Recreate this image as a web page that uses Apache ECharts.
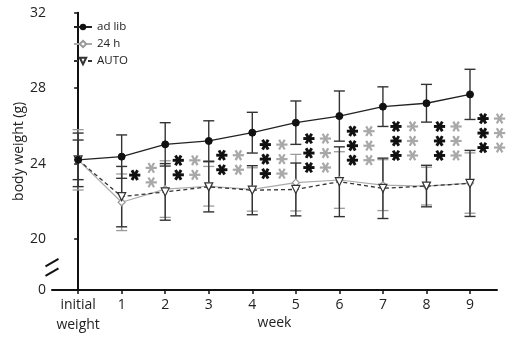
<!DOCTYPE html>
<html><head><meta charset="utf-8">
<script src="https://cdn.jsdelivr.net/npm/echarts@6/dist/echarts.min.js"></script>
<style>html,body{margin:0;padding:0;background:#fff}#c{width:510px;height:342px}</style>
</head><body><div id="c"></div>
<script>
// ---- data ----
const weeks = [0, 1, 2, 3, 4, 5, 6, 7, 8, 9];
const xLabels = ['initial\nweight', '1', '2', '3', '4', '5', '6', '7', '8', '9'];
const yTickValues = [17.3, 20, 24, 28, 32];
const yTickLabels = ['0', '20', '24', '28', '32'];
const adLibMean = [24.2, 24.37, 25.02, 25.2, 25.64, 26.17, 26.52, 27.02, 27.2, 27.67];
const adLibSD   = [1.42, 1.15, 1.15, 1.07, 1.08, 1.15, 1.33, 1.05, 1.0, 1.33];
const h24Mean   = [24.2, 21.95, 22.65, 22.8, 22.63, 22.99, 23.13, 22.86, 22.81, 22.97];
const h24SD     = [1.6, 1.5, 1.5, 1.05, 1.15, 1.5, 1.5, 1.35, 1.0, 1.6];
const autoMean  = [24.2, 22.25, 22.5, 22.77, 22.59, 22.63, 23.04, 22.69, 22.81, 22.95];
const autoSD    = [1.05, 1.6, 1.5, 1.33, 1.3, 1.4, 1.85, 1.6, 1.1, 1.75];
const sigAdLib  = [0, 1, 2, 2, 3, 3, 3, 3, 3, 3];
const sig24h    = [0, 2, 2, 2, 3, 3, 3, 3, 3, 3];
const sigLevel  = [null, 23.39, 23.79, 24.06, 24.24, 24.56, 24.95, 25.2, 25.2, 25.62];
const breakValue = 18.5;

// ---- build ----
const FONT = '"Open Sans", "Noto Sans", sans-serif';
const pts = m => weeks.map((w, i) => [w, m[i]]);
const bars = (m, s) => weeks.map((w, i) => [w, m[i] - s[i], m[i] + s[i]]);
const stars = (cnt) => weeks.map((w, i) => [w, sigLevel[i] == null ? 0 : sigLevel[i], cnt[i]]).filter(d => d[2] > 0);

function errRender(color, width) {
  return function (params, api) {
    const x = api.value(0);
    const a = api.coord([x, api.value(2)]);
    const b = api.coord([x, api.value(1)]);
    const hw = 5.5;
    const st = { stroke: color, lineWidth: width };
    return { type: 'group', children: [
      { type: 'line', shape: { x1: a[0], y1: a[1], x2: b[0], y2: b[1] }, style: st },
      { type: 'line', shape: { x1: a[0] - hw, y1: a[1], x2: a[0] + hw, y2: a[1] }, style: st },
      { type: 'line', shape: { x1: b[0] - hw, y1: b[1], x2: b[0] + hw, y2: b[1] }, style: st }
    ]};
  };
}
function starRender(color, width, xOff) {
  return function (params, api) {
    const n = api.value(2);
    const c = api.coord([api.value(0) + xOff, api.value(1)]);
    const sp = 14.5, r = 5.6;
    const children = [];
    for (let k = 0; k < n; k++) {
      const cy = c[1] + (k - (n - 1) / 2) * sp;
      [0, 60, 120].forEach(deg => {
        const t = deg * Math.PI / 180;
        children.push({ type: 'line', shape: { x1: c[0] - r * Math.cos(t), y1: cy - r * Math.sin(t), x2: c[0] + r * Math.cos(t), y2: cy + r * Math.sin(t) },
          style: { stroke: color, lineWidth: width, lineCap: 'butt' } });
      });
    }
    return { type: 'group', children };
  };
}

const chart = echarts.init(document.getElementById('c'), null, { renderer: 'canvas' });
const option = {
  animation: false,
  textStyle: { fontFamily: FONT },
  grid: { left: 52, right: 13, top: 12.7, bottom: 52, containLabel: false, outerBoundsMode: 'none' },
  legend: {
    orient: 'vertical', left: 68, top: 16, itemWidth: 18, itemHeight: 8, itemGap: 5,
    textStyle: { fontSize: 11.5, color: '#222', fontFamily: FONT },
    data: ['ad lib', '24 h', 'AUTO']
  },
  xAxis: {
    type: 'value', min: -0.6, max: 9.62,
    name: 'week', nameLocation: 'middle', nameGap: 26, nameMoveOverlap: false,
    nameTextStyle: { fontSize: 14, color: '#222', fontFamily: FONT },
    axisLine: { lineStyle: { color: '#111', width: 2 } },
    axisTick: { show: true, length: 4, customValues: weeks, lineStyle: { color: '#111', width: 1.5 } },
    axisLabel: { customValues: weeks, formatter: v => xLabels[weeks.indexOf(Math.round(v))], fontSize: 14, color: '#222', lineHeight: 20, margin: 5, fontFamily: FONT },
    splitLine: { show: false }
  },
  yAxis: {
    type: 'value', min: 17.3, max: 32,
    name: 'body weight (g)', nameLocation: 'middle', nameGap: 26, nameRotate: 90, nameMoveOverlap: false,
    nameTextStyle: { fontSize: 14, color: '#222', fontFamily: FONT },
    axisLine: { show: true, lineStyle: { color: '#111', width: 2 } },
    axisTick: { show: true, length: 4, customValues: yTickValues, lineStyle: { color: '#111', width: 1.5 } },
    axisLabel: { customValues: yTickValues, formatter: v => yTickLabels[yTickValues.indexOf(v)], fontSize: 14, color: '#222', margin: 6, fontFamily: FONT },
    splitLine: { show: false }
  },
  series: [
    { type: 'custom', name: 'err24', data: bars(h24Mean, h24SD), renderItem: errRender('#9a9a9a', 1.3), z: 1, silent: true },
    { type: 'custom', name: 'errAuto', data: bars(autoMean, autoSD), renderItem: errRender('#333', 1.4), z: 1, silent: true },
    { type: 'custom', name: 'errAd', data: bars(adLibMean, adLibSD), renderItem: errRender('#333', 1.4), z: 1, silent: true },
    { type: 'line', name: '24 h', data: pts(h24Mean), symbol: 'diamond', symbolSize: 7,
      lineStyle: { color: '#aaa', width: 1.2 }, itemStyle: { color: '#fff', borderColor: '#999', borderWidth: 1.2 }, z: 3 },
    { type: 'line', name: 'AUTO', data: pts(autoMean), symbol: 'triangle', symbolRotate: 180, symbolSize: 8,
      lineStyle: { color: '#333', width: 1.3, type: [4, 3] }, itemStyle: { color: '#fff', borderColor: '#333', borderWidth: 1.2 }, z: 4 },
    { type: 'line', name: 'ad lib', data: pts(adLibMean), symbol: 'circle', symbolSize: 7,
      lineStyle: { color: '#222', width: 1.3 }, itemStyle: { color: '#111', borderColor: '#111' }, z: 5 },
    { type: 'custom', name: 'sigAd', data: stars(sigAdLib), renderItem: starRender('#111', 2.9, 0.3), z: 6, silent: true },
    { type: 'custom', name: 'sig24', data: stars(sig24h), renderItem: starRender('#a8a8a8', 2.2, 0.68), z: 6, silent: true }
  ]
};
chart.setOption(option);

// axis break marks
const bp = chart.convertToPixel({ gridIndex: 0 }, [-0.6, breakValue]);
const bx = bp[0], by = bp[1];
chart.setOption({ graphic: [
  { type: 'rect', shape: { x: bx - 3, y: by - 4.5, width: 6, height: 9 }, style: { fill: '#fff' }, z: 100 },
  { type: 'line', shape: { x1: bx - 6.5, y1: by - 1, x2: bx + 6.5, y2: by - 8.5 }, style: { stroke: '#111', lineWidth: 2 }, z: 101 },
  { type: 'line', shape: { x1: bx - 6.5, y1: by + 8.5, x2: bx + 6.5, y2: by + 1 }, style: { stroke: '#111', lineWidth: 2 }, z: 101 }
]});
</script>
</body></html>
